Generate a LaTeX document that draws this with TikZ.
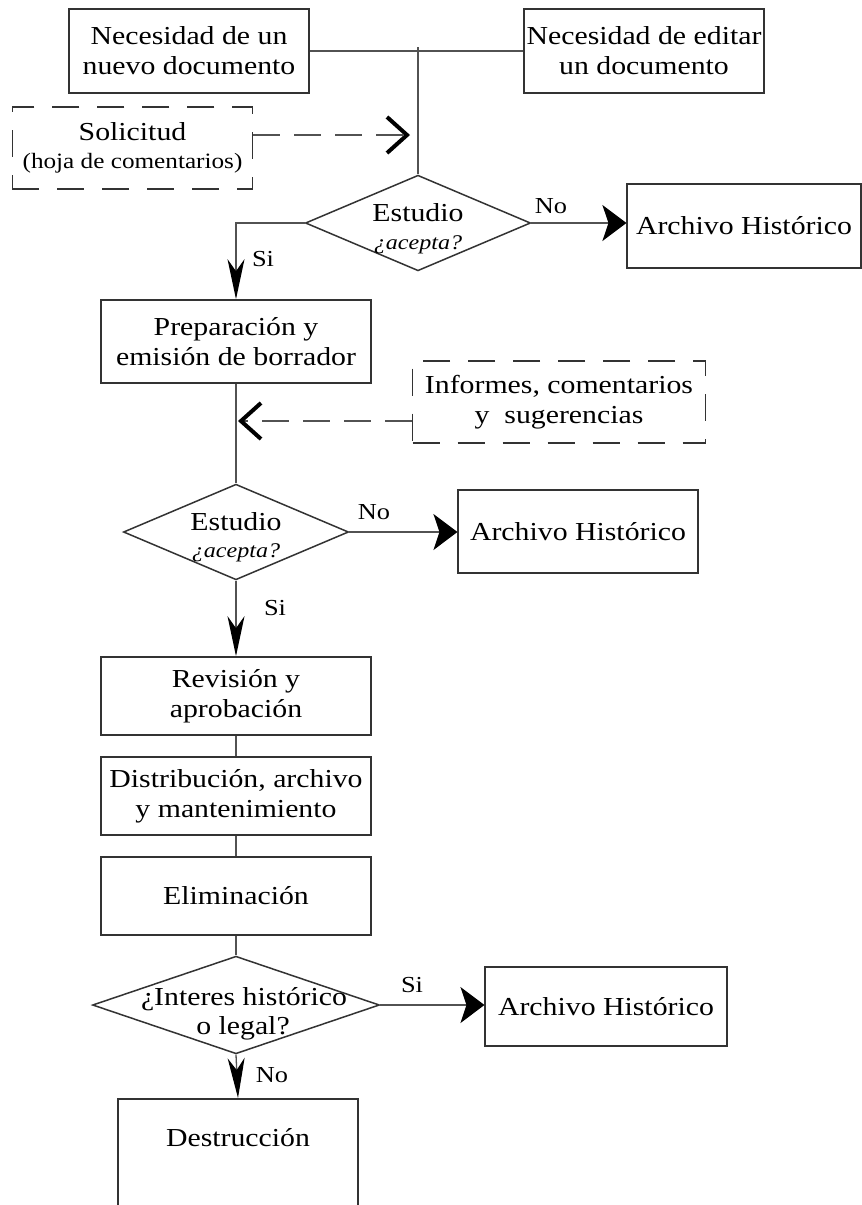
\documentclass[tikz,border=0pt]{standalone}
\usepackage{fontspec}
\setmainfont[FakeStretch=1.15]{Liberation Serif}
\usetikzlibrary{shapes.geometric,arrows.meta,calc}

\definecolor{edgec}{gray}{0.2}
\definecolor{linec}{gray}{0.32}

\tikzset{
  txt/.style={font=\fontsize{26}{30}\selectfont},
  box/.style={txt, draw=edgec, line width=2bp, fill=white, inner sep=0pt,
    align=center},
  dbox/.style={box, line width=1.7bp, dash pattern=on 27bp off 18bp},
  decision/.style={diamond, draw=edgec, line width=1.5bp, fill=white,
    inner sep=0pt},
  conn/.style={draw=linec, line width=1.3bp},
  rarrow/.style={conn, -{Stealth[length=24bp,width=36bp,inset=6bp,black]}},
  darrow/.style={conn, -{Stealth[length=40bp,width=17bp,inset=12bp,black]}},
  dasharrow/.style={draw=linec, line width=1.6bp, dash pattern=on 27bp off 14bp,
    -{Straight Barb[length=20bp,width=36bp,line width=4bp,black]}},
  lbl/.style={font=\fontsize{23}{26}\selectfont, inner sep=0pt},
  qlbl/.style={font=\fontsize{21}{24}\selectfont\itshape, inner sep=0pt},
}

\begin{document}
\begin{tikzpicture}[x=1bp,y=-1bp]
  \fill[white] (0,0) rectangle (862,1205);
  \useasboundingbox (0,0) rectangle (862,1205);

  % origin of a request
  \node[box, minimum width=240, minimum height=84] (n1) at (189,51)
    {Necesidad de un\\nuevo documento};
  \node[box, minimum width=240, minimum height=84] (n2) at (644,51)
    {Necesidad de editar\\un documento};
  \coordinate (jn) at (418,47);

  \node[dbox, minimum width=241, minimum height=82] (sol) at (132.5,148)
    {Solicitud\\[-2bp]{\fontsize{22}{26}\selectfont (hoja de comentarios)}};
  \coordinate (s1) at (410,135);

  % first study
  \node[decision, minimum width=226, minimum height=96,
    label={[txt, yshift=10bp]center:Estudio},
    label={[qlbl, yshift=-22bp]center:¿acepta?}] (d1) at (418,223) {};
  \node[box, minimum width=234, minimum height=84] (arch1) at (744,226)
    {Archivo Histórico};

  % draft
  \node[box, minimum width=271, minimum height=83] (prep) at (236,341.5)
    {Preparación y\\emisión de borrador};
  \node[dbox, minimum width=294, minimum height=82] (inf) at (559,402)
    {Informes, comentarios\\y\ \ sugerencias};
  \coordinate (s2) at (238,421);

  % second study
  \node[decision, minimum width=226, minimum height=96,
    label={[txt, yshift=10bp]center:Estudio},
    label={[qlbl, yshift=-21bp]center:¿acepta?}] (d2) at (236,532) {};
  \node[box, minimum width=240, minimum height=83] (arch2) at (578,531.5)
    {Archivo Histórico};

  % approval and life cycle
  \node[box, minimum width=271, minimum height=78] (rev) at (236,696)
    {Revisión y\\aprobación};
  \node[box, minimum width=271, minimum height=78] (dist) at (236,796)
    {Distribución, archivo\\y mantenimiento};
  \node[box, minimum width=271, minimum height=78] (elim) at (236,896)
    {Eliminación};

  % final decision
  \node[decision, minimum width=288, minimum height=98,
    label={[txt, xshift=8bp, yshift=6bp]center:¿Interes histórico},
    label={[txt, xshift=7bp, yshift=-23bp]center:o legal?}] (d3) at (236,1005) {};
  \node[box, minimum width=242, minimum height=79] (arch3) at (606,1006.5)
    {Archivo Histórico};
  \node[box, anchor=north, minimum width=241, minimum height=150,
    label={[txt, anchor=center, yshift=-40bp]north:Destrucción}] (destr) at (238,1098) {};

  % connectors
  \draw[conn] (n1.east |- 0,51) -- (n2.west |- 0,51);
  \draw[conn] (jn) -- (d1.north);
  \draw[dasharrow] ($(sol.east)+(0,-13)$) -- (s1);

  \draw[rarrow] (d1.east) -- (d1.east -| arch1.west);
  \draw[darrow] (d1.west) -| (prep.north);

  \draw[conn] (prep.south) -- (d2.north);
  \draw[dasharrow] ($(inf.west)+(0,19)$) -- (s2);

  \draw[rarrow] (d2.east) -- (d2.east -| arch2.west);
  \draw[darrow] (d2.south) -- (rev.north);

  \draw[conn] (rev.south) -- (dist.north);
  \draw[conn] (dist.south) -- (elim.north);
  \draw[conn] (elim.south) -- (d3.north);

  \draw[rarrow] (d3.east) -- (d3.east -| arch3.west);
  \draw[darrow] (d3.south) -- (destr.north);

  % branch labels
  \node[lbl] (no1) at (551,206) {No};
  \node[lbl] (si1) at (263,259) {Si};
  \node[lbl] (no2) at (374,512) {No};
  \node[lbl] (si2) at (275,608) {Si};
  \node[lbl] (si3) at (412,985) {Si};
  \node[lbl] (no3) at (272,1075) {No};
\end{tikzpicture}
\end{document}
